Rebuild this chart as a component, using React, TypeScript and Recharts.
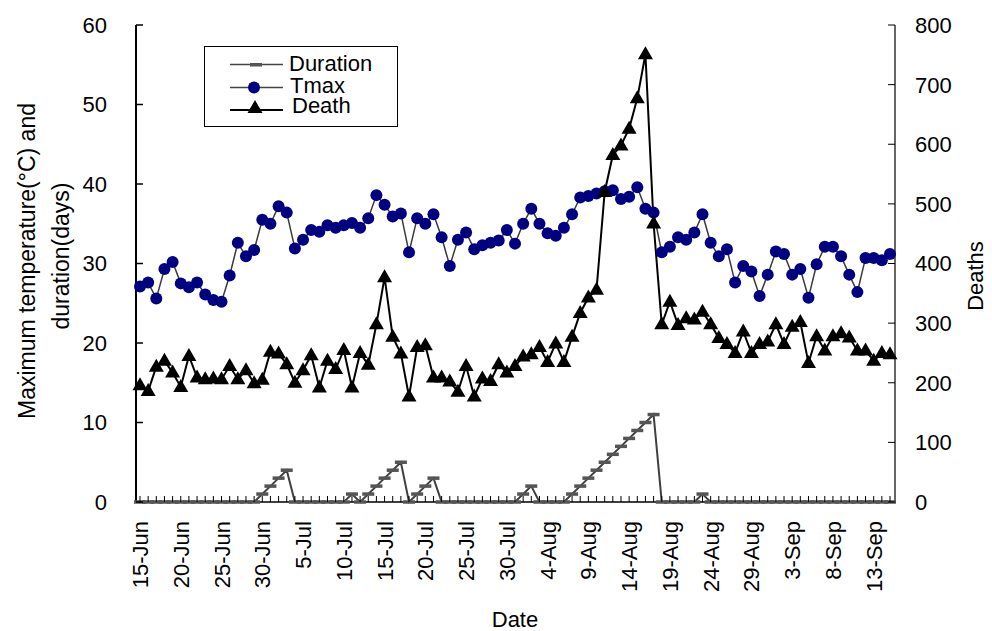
import { LineChart, Line, XAxis, YAxis, Legend } from "recharts";

const FONT = "'Liberation Sans', Arial, Helvetica, sans-serif";

// categories: 15-Jun .. 15-Sep, one per day
const monthSpans: [string, number, number][] = [
  ["Jun", 15, 30],
  ["Jul", 1, 31],
  ["Aug", 1, 31],
  ["Sep", 1, 15],
];
const dates = monthSpans.flatMap(([m, a, b]) =>
  Array.from({ length: b - a + 1 }, (_, i) => `${a + i}-${m}`)
);

const tmax = [
  27.1, 27.6, 25.6, 29.3, 30.2, 27.5, 27.0, 27.6, 26.1, 25.4,
  25.2, 28.5, 32.6, 30.9, 31.7, 35.5, 35.0, 37.2, 36.4, 31.9,
  33.0, 34.2, 34.0, 34.8, 34.5, 34.8, 35.1, 34.5, 35.7, 38.6,
  37.4, 35.9, 36.3, 31.4, 35.7, 35.0, 36.2, 33.3, 29.7, 33.0,
  33.9, 31.8, 32.3, 32.6, 32.9, 34.2, 32.5, 35.0, 36.9, 35.0,
  33.8, 33.5, 34.5, 36.2, 38.3, 38.5, 38.8, 39.1, 39.2, 38.1,
  38.4, 39.6, 36.9, 36.4, 31.4, 32.1, 33.3, 33.0, 33.9, 36.2,
  32.6, 30.9, 31.8, 27.6, 29.7, 29.0, 25.9, 28.6, 31.5, 31.2,
  28.6, 29.3, 25.7, 29.9, 32.1, 32.1, 30.9, 28.6, 26.4, 30.7,
  30.7, 30.4, 31.2,
];

const death = [
  196, 186, 227, 237, 217, 193, 245, 209, 206, 207,
  206, 228, 206, 221, 199, 205, 252, 249, 231, 200,
  221, 246, 192, 237, 223, 255, 192, 250, 230, 298,
  377, 277, 249, 177, 260, 263, 209, 209, 202, 185,
  228, 177, 207, 203, 231, 217, 228, 244, 248, 260,
  235, 266, 235, 277, 317, 343, 356, 520, 582, 598,
  626, 677, 751, 467, 298, 336, 297, 308, 306, 319,
  298, 275, 265, 250, 286, 250, 265, 269, 298, 265,
  294, 302, 233, 278, 254, 278, 283, 276, 254, 254,
  237, 250, 248,
];

const duration = [
  0, 0, 0, 0, 0, 0, 0, 0, 0, 0,
  0, 0, 0, 0, 0, 1, 2, 3, 4, 0,
  0, 0, 0, 0, 0, 0, 1, 0, 1, 2,
  3, 4, 5, 0, 1, 2, 3, 0, 0, 0,
  0, 0, 0, 0, 0, 0, 0, 1, 2, 0,
  0, 0, 0, 1, 2, 3, 4, 5, 6, 7,
  8, 9, 10, 11, 0, 0, 0, 0, 0, 1,
  0, 0, 0, 0, 0, 0, 0, 0, 0, 0,
  0, 0, 0, 0, 0, 0, 0, 0, 0, 0,
  0, 0, 0,
];

const leftTicks = [0, 10, 20, 30, 40, 50, 60];
const rightTicks = [0, 100, 200, 300, 400, 500, 600, 700, 800];

const data = dates.map((date, i) => ({
  date,
  duration: duration[i],
  tmax: tmax[i],
  death: death[i],
}));

function DateTick(props: any) {
  const { x, y, index, payload } = props;
  const tx = x + 8;
  const ty = y + 19;
  return (
    <g>
      <line x1={x} x2={x} y1={y} y2={y - 6} stroke="#000" strokeWidth={1} />
      {index % 5 === 0 && (
        <text
          x={tx}
          y={ty}
          transform={`rotate(-90 ${tx} ${ty})`}
          textAnchor="end"
          fontSize={22}
          fontFamily={FONT}
          fill="#000"
        >
          {payload.value}
        </text>
      )}
    </g>
  );
}

function LeftTick(props: any) {
  const { x, y, payload } = props;
  return (
    <g>
      <line x1={x} x2={x + 7} y1={y} y2={y} stroke="#000" strokeWidth={1.5} />
      <text x={x - 29} y={y} dy="0.36em" textAnchor="end" fontSize={22} fontFamily={FONT} fill="#000">
        {payload.value}
      </text>
    </g>
  );
}

function RightTick(props: any) {
  const { x, y, payload } = props;
  return (
    <g>
      <line x1={x - 7} x2={x} y1={y} y2={y} stroke="#000" strokeWidth={1} />
      <text x={x + 20} y={y} dy="0.36em" textAnchor="start" fontSize={22} fontFamily={FONT} fill="#000">
        {payload.value}
      </text>
    </g>
  );
}

const durationDot = (p: any) => (
  <rect key={`du-${p.index}`} x={p.cx - 6} y={p.cy - 1.75} width={12} height={3.5} fill="#555" />
);
const tmaxDot = (p: any) => (
  <circle key={`tm-${p.index}`} cx={p.cx} cy={p.cy} r={6} fill="#000080" />
);
const deathDot = (p: any) => (
  <path
    key={`de-${p.index}`}
    d={`M${p.cx},${p.cy - 8} L${p.cx + 7.5},${p.cy + 5} L${p.cx - 7.5},${p.cy + 5} Z`}
    fill="#000"
  />
);

const leftTitle = () => (
  <g fontFamily={FONT} fontSize={23} fill="#000">
    <text x={35} y={261} transform="rotate(-90 35 261)" textAnchor="middle">
      Maximum temperature(°C) and
    </text>
    <text x={69} y={256} transform="rotate(-90 69 256)" textAnchor="middle">
      duration(days)
    </text>
  </g>
);

const rightTitle = () => (
  <text
    x={983}
    y={276}
    transform="rotate(-90 983 276)"
    textAnchor="middle"
    fontFamily={FONT}
    fontSize={22}
    fill="#000"
  >
    Deaths
  </text>
);

const xTitle = () => (
  <text x={515} y={627} textAnchor="middle" fontFamily={FONT} fontSize={22} fill="#000">
    Date
  </text>
);

function LegendBox() {
  const rows = [
    { name: "Duration", ly: 18.5, tx: 85, ty: 18 },
    { name: "Tmax", ly: 41.5, tx: 86, ty: 40 },
    { name: "Death", ly: 64, tx: 88, ty: 60 },
  ];
  return (
    <svg width={194} height={81} style={{ display: "block" }}>
      <rect x={0.5} y={0.5} width={193} height={80} fill="#fff" stroke="#000" strokeWidth={1} />
      {rows.map((r) => (
        <g key={r.name}>
          <line
            x1={26}
            x2={79}
            y1={r.ly}
            y2={r.ly}
            stroke={r.name === "Death" ? "#000" : "#444"}
            strokeWidth={r.name === "Death" ? 2 : 1.5}
          />
          <text x={r.tx} y={r.ty} dy="0.34em" fontFamily={FONT} fontSize={22} fill="#000">
            {r.name}
          </text>
        </g>
      ))}
      <rect x={46} y={17} width={12} height={3.5} fill="#555" />
      <circle cx={50} cy={41.5} r={6} fill="#000080" />
      <path d="M51,54 L58.5,67 L43.5,67 Z" fill="#000" />
    </svg>
  );
}

export default function App() {
  return (
    <div style={{ position: "absolute", left: 0, top: 0, width: 992, height: 631, background: "#fff" }}>
      <LineChart
        width={992}
        height={631}
        data={data}
        margin={{ top: 25, right: 0, bottom: 0, left: 0 }}
      >
        <XAxis
          dataKey="date"
          height={129}
          interval={0}
          padding={{ left: 4, right: 5 }}
          tickLine={false}
          tickSize={0}
          tickMargin={0}
          tick={<DateTick />}
          axisLine={{ stroke: "#000", strokeWidth: 1.5 }}
          label={{ value: "Date", content: xTitle }}
        />
        <YAxis
          yAxisId="left"
          width={136}
          domain={[0, 60]}
          ticks={leftTicks}
          interval={0}
          tickLine={false}
          tickSize={0}
          tickMargin={0}
          tick={<LeftTick />}
          axisLine={{ stroke: "#000", strokeWidth: 2 }}
          label={{ value: "left", content: leftTitle }}
        />
        <YAxis
          yAxisId="right"
          orientation="right"
          width={97}
          domain={[0, 800]}
          ticks={rightTicks}
          interval={0}
          tickLine={false}
          tickSize={0}
          tickMargin={0}
          tick={<RightTick />}
          axisLine={{ stroke: "#000", strokeWidth: 1.2 }}
          label={{ value: "Deaths", content: rightTitle }}
        />
        <Legend
          layout="vertical"
          align="center"
          verticalAlign="middle"
          content={() => <LegendBox />}
          wrapperStyle={{ left: 204, top: 46, width: 194, height: 81 }}
        />
        <Line
          yAxisId="left"
          type="linear"
          dataKey="duration"
          name="Duration"
          stroke="#404040"
          strokeWidth={2}
          dot={durationDot}
          activeDot={false}
          isAnimationActive={false}
        />
        <Line
          yAxisId="left"
          type="linear"
          dataKey="tmax"
          name="Tmax"
          stroke="#3a3a3a"
          strokeWidth={1.5}
          dot={tmaxDot}
          activeDot={false}
          isAnimationActive={false}
        />
        <Line
          yAxisId="right"
          type="linear"
          dataKey="death"
          name="Death"
          stroke="#000"
          strokeWidth={2}
          dot={deathDot}
          activeDot={false}
          isAnimationActive={false}
        />
      </LineChart>
    </div>
  );
}
